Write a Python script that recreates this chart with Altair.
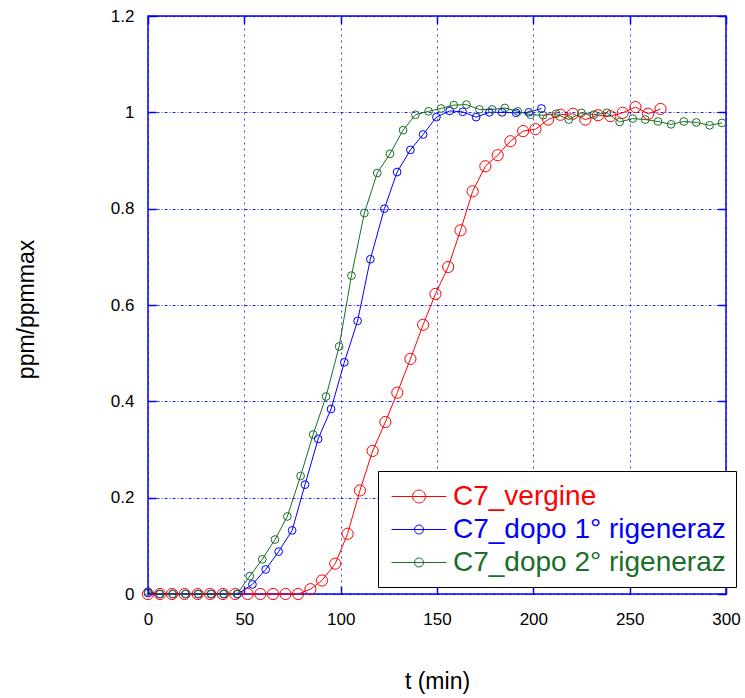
import altair as alt
import pandas as pd

series_names = ["C7_vergine", "C7_dopo 1° rigeneraz", "C7_dopo 2° rigeneraz"]
series_colors = ["#ff0000", "#0000ff", "#1a6e26"]

t_vergine = [0, 6.2, 12.5, 19, 25.8, 32.3, 38.9, 45.3, 51.7, 58.3, 64.9, 71.4, 77.9,
             84.3, 90.3, 97.2, 103.6, 110, 116.6, 123.2, 129.4, 136.2, 142.8, 149.2,
             155.8, 162.2, 168.5, 175.1, 181.5, 188.1, 194.7, 201.1, 207.7, 214.1,
             220.5, 227, 233.6, 240, 246.4, 253, 259.6, 266]
v_vergine = [0, 0, 0, 0, 0, 0, 0, 0, 0, 0, 0, 0, 0,
             0.01, 0.028, 0.063, 0.125, 0.215, 0.297, 0.357, 0.418, 0.488, 0.559, 0.623,
             0.679, 0.755, 0.836, 0.888, 0.911, 0.94, 0.961, 0.965, 0.985, 0.995,
             0.997, 0.985, 0.994, 0.992, 0.999, 1.011, 0.997, 1.007]

t_dopo1 = [0, 6, 12.8, 19.4, 26, 32.7, 39.3, 46.5, 54.2, 61.1, 67.8, 74.8, 81.5,
           88.3, 95, 101.9, 108.8, 115.4, 122.7, 129.3, 136.2, 142.8, 149.7,
           156.6, 163.3, 170.3, 177.2, 183.8, 191, 197.6, 204.2]
v_dopo1 = [0.002, 0, 0, 0, 0, 0, 0, 0, 0.02, 0.051, 0.088, 0.132, 0.227,
           0.322, 0.384, 0.481, 0.567, 0.695, 0.8, 0.876, 0.922, 0.954, 0.99,
           1.003, 1.001, 0.99, 1.0, 1.0, 0.999, 1.0, 1.008]

t_dopo2 = [0, 6.2, 12.8, 19.4, 26, 32.7, 39.3, 46.2, 52.8, 59.3, 65.9, 72.3, 79.2,
           85.7, 92.4, 99.2, 105.6, 112.3, 119, 125.6, 132.4, 138.8, 145.6, 152.1,
           158.7, 165.3, 172, 178.6, 185.2, 191.9, 198.5, 205, 211.8, 218.4, 224.9,
           231.4, 238.2, 244.8, 251.6, 258.1, 264.7, 271.5, 278.1, 284.6, 291.5, 297.9]
v_dopo2 = [0.005, 0, 0, 0, 0, 0, 0, 0, 0.037, 0.072, 0.113, 0.161, 0.245,
           0.331, 0.41, 0.514, 0.661, 0.791, 0.874, 0.914, 0.963, 0.995, 1.002, 1.008,
           1.015, 1.016, 1.006, 1.006, 1.009, 1.002, 0.995, 0.994, 0.997, 0.985, 0.999,
           0.995, 0.999, 0.98, 0.987, 0.985, 0.981, 0.975, 0.981, 0.979, 0.973, 0.978]

x_ticks = [0, 50, 100, 150, 200, 250, 300]
y_ticks = [0, 0.2, 0.4, 0.6, 0.8, 1.0, 1.2]

rows = []
for name, ts, vs in zip(series_names, [t_vergine, t_dopo1, t_dopo2],
                        [v_vergine, v_dopo1, v_dopo2]):
    for t, v in zip(ts, vs):
        rows.append({"t": t, "v": v, "serie": name})
df = pd.DataFrame(rows)

W, H = 578, 578
FONT = "Liberation Sans"
BLUE = "#0000ff"


def by_series(values):
    e = "'" + values[-1] + "'"
    for n, v in reversed(list(zip(series_names[:-1], values[:-1]))):
        e = "datum.value == '" + n + "' ? '" + v + "' : (" + e + ")"
    return e


def sym_path(r, L=1.83):
    return (f"M{-L},0H{L}M{-r},0A{r},{r},0,1,0,{r},0A{r},{r},0,1,0,{-r},0")


sym_paths = [sym_path(0.43), sym_path(0.3), sym_path(0.3)]

legend_kwargs = dict(
    title=None, orient="none", legendX=230, legendY=455, direction="vertical",
    fillColor="white", strokeColor="black", padding=10,
    labelFont=FONT, labelFontSize=28, labelLimit=600, labelOffset=18.5,
    labelColor=alt.ExprRef(by_series(series_colors)),
    symbolType=alt.ExprRef(by_series(sym_paths)),
    symbolSize=900, symbolStrokeWidth=1, symbolFillColor="transparent",
    symbolOffset=15.5, rowPadding=3,
)
try:
    alt.Legend(strokeWidth=2).to_dict()
    legend_kwargs["strokeWidth"] = 2
except Exception:
    pass
legend = alt.Legend(**legend_kwargs)

color = alt.Color("serie:N", sort=series_names,
                  scale=alt.Scale(domain=series_names, range=series_colors),
                  legend=legend)

x_scale = alt.Scale(domain=[0, 300], nice=False, zero=False)
y_scale = alt.Scale(domain=[0, 1.2], nice=False, zero=False)

x_main = alt.Axis(orient="bottom", values=x_ticks, format="d", labelFont=FONT,
                  labelFontSize=17, labelColor="black", labelPadding=17,
                  labelFlush=False, labelOverlap=False, ticks=False, domain=False,
                  grid=True, gridColor=BLUE, gridDash=[2, 4], gridWidth=1,
                  gridOpacity=0.75, title="t (min)", titleFont=FONT,
                  titleFontSize=23, titleFontWeight="normal", titleColor="black",
                  titleY=94, titleBaseline="alphabetic")
y_main = alt.Axis(orient="left", values=y_ticks, format="~r", labelFont=FONT,
                  labelFontSize=17, labelColor="black", labelPadding=14,
                  labelFlush=False, labelOverlap=False, ticks=False, domain=False,
                  grid=True, gridColor=BLUE, gridDash=[3, 2, 1, 2], gridWidth=1,
                  gridOpacity=0.85, title="ppm/ppmmax", titleFont=FONT,
                  titleFontSize=23, titleFontWeight="normal", titleColor="black",
                  titleX=-115, titleY=293, titleAngle=270,
                  titleBaseline="alphabetic", titleAlign="center")


def tick_axis(orient, offset, values):
    return alt.Axis(orient=orient, offset=offset, values=values, labels=False,
                    ticks=True, tickSize=8, tickColor=BLUE, tickWidth=1.5,
                    domain=False, grid=False, title=None)


lines = alt.Chart(df).mark_line(strokeWidth=1).encode(
    x=alt.X("t:Q", scale=x_scale, axis=x_main),
    y=alt.Y("v:Q", scale=y_scale, axis=y_main),
    color=color,
    detail="serie:N",
)

points_red = alt.Chart(df).transform_filter(
    alt.datum.serie == series_names[0]
).mark_point(shape="circle", filled=False, strokeWidth=1, opacity=1, size=125).encode(
    x=alt.X("t:Q", scale=x_scale, axis=tick_axis("top", -H, x_ticks)),
    y=alt.Y("v:Q", scale=y_scale, axis=tick_axis("right", -W, y_ticks)),
    color=color,
)

points_other = alt.Chart(df).transform_filter(
    alt.datum.serie != series_names[0]
).mark_point(shape="circle", filled=False, strokeWidth=1, opacity=1, size=60).encode(
    x=alt.X("t:Q", scale=x_scale, axis=tick_axis("bottom", -H, x_ticks)),
    y=alt.Y("v:Q", scale=y_scale, axis=tick_axis("left", -W, y_ticks)),
    color=color,
)

chart = alt.layer(lines, points_red, points_other).resolve_axis(
    x="independent", y="independent"
).properties(
    width=W, height=H,
    padding={"left": 148, "top": 16, "right": 19, "bottom": 104},
    autosize=alt.AutoSizeParams(type="none"),
    background="white",
).configure_view(stroke=BLUE, strokeWidth=1.5)

chart.save("out.html", embed_options={"renderer": "svg", "actions": False})
